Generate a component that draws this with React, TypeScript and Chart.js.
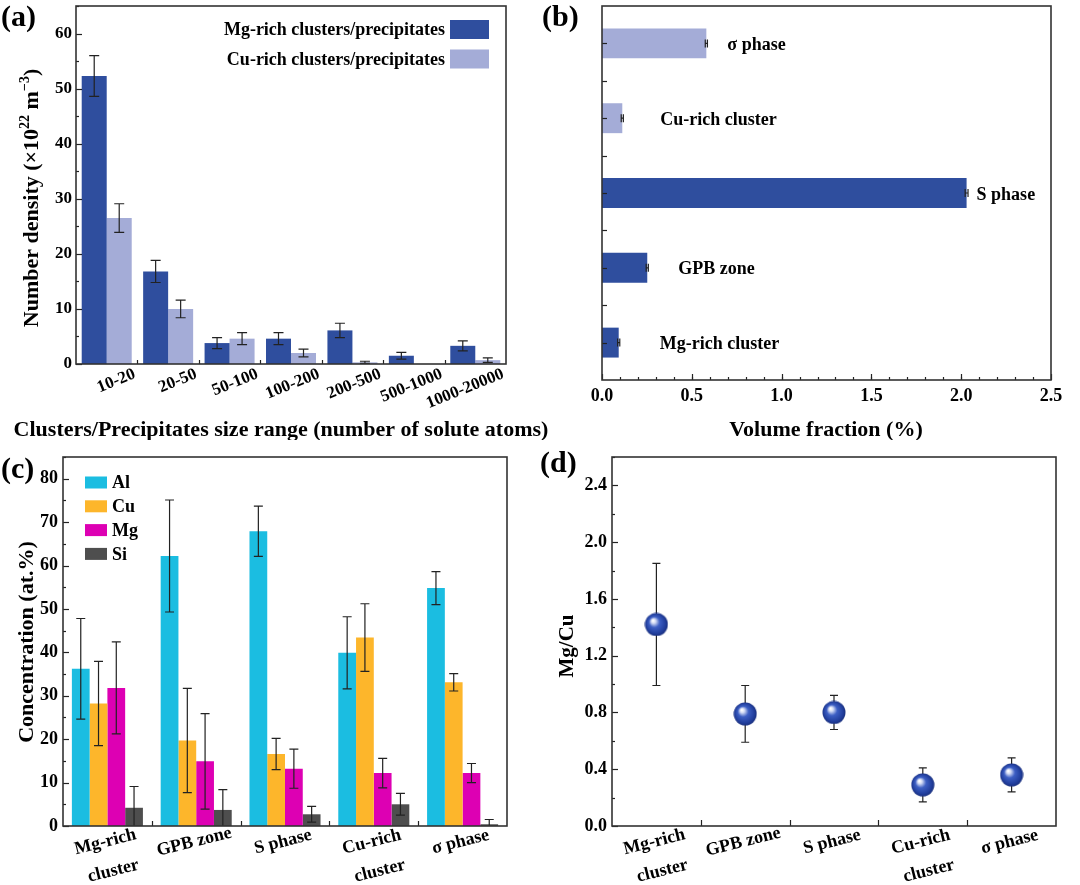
import React, { useEffect, useRef } from 'react';
import { Chart, registerables } from 'chart.js';

Chart.register(...registerables);

const FONT = '"Liberation Serif", "Times New Roman", Times, serif';
Chart.defaults.font.family = FONT;
Chart.defaults.font.weight = 'bold';
Chart.defaults.color = '#000';

// ---------- (a) Number density vs size range ----------
const sizeRanges = ['10-20', '20-50', '50-100', '100-200', '200-500', '500-1000', '1000-20000'];
const mgRichDensity = [52.3, 16.8, 3.8, 4.6, 6.1, 1.5, 3.3];
const mgRichDensityErr = [3.7, 2.0, 1.0, 1.1, 1.3, 0.6, 0.9];
const cuRichDensity = [26.5, 10.0, 4.6, 2.0, 0.3, 0, 0.7];
const cuRichDensityErr = [2.6, 1.6, 1.1, 0.7, 0.2, null, 0.4];
const densitySeries = ['Mg-rich clusters/precipitates', 'Cu-rich clusters/precipitates'];

// ---------- (b) Volume fraction ----------
const phaseNames = ['Mg-rich cluster', 'GPB zone', 'S phase', 'Cu-rich cluster', 'σ phase'];
const volumeFraction = [0.093, 0.252, 2.03, 0.113, 0.581];
const volumeFractionErr = [0.006, 0.006, 0.008, 0.006, 0.006];

// ---------- (c) Concentration ----------
const phaseTickLabels = [['Mg-rich', 'cluster'], 'GPB zone', 'S phase', ['Cu-rich', 'cluster'], 'σ phase'];
const elements = ['Al', 'Cu', 'Mg', 'Si'];
const alConc = [36.2, 62.2, 67.9, 39.9, 54.8];
const alConcErr = [11.6, 12.9, 5.8, 8.3, 3.8];
const cuConc = [28.2, 19.7, 16.6, 43.4, 33.1];
const cuConcErr = [9.7, 12.0, 3.6, 7.8, 2.0];
const mgConc = [31.8, 14.9, 13.2, 12.2, 12.2];
const mgConcErr = [10.6, 11.0, 4.5, 3.4, 2.2];
const siConc = [4.2, 3.7, 2.7, 5.0, 0.4];
const siConcErr = [4.9, 4.7, 1.8, 2.5, 1.1];

// ---------- (d) Mg/Cu ratio ----------
const mgCuRatio = [1.42, 0.79, 0.8, 0.29, 0.36];
const mgCuRatioErr = [0.43, 0.2, 0.12, 0.12, 0.12];

// ---------- styles ----------
const DARK_BLUE = '#2F4E9E';
const LIGHT_BLUE = '#A4ACD7';
const AL_COLOR = '#1BBDE1';
const CU_COLOR = '#FDB62B';
const MG_COLOR = '#DD00B3';
const SI_COLOR = '#4E4E4E';

const seq = (a: number, b: number, s: number) => {
  const out: number[] = [];
  for (let v = a; v <= b + 1e-9; v += s) out.push(Math.round(v * 1000) / 1000);
  return out;
};

function drawRuns(ctx: any, runs: any[], x: number, y: number, rotation: number, align: string) {
  ctx.save();
  ctx.translate(x, y);
  ctx.rotate(rotation);
  let total = 0;
  const widths = runs.map((r) => {
    ctx.font = `bold ${r.size}px ${FONT}`;
    const w = ctx.measureText(r.text).width;
    total += w;
    return w;
  });
  let cx = align === 'center' ? -total / 2 : align === 'right' ? -total : 0;
  ctx.textBaseline = 'middle';
  ctx.textAlign = 'left';
  ctx.fillStyle = '#000';
  runs.forEach((r, i) => {
    ctx.font = `bold ${r.size}px ${FONT}`;
    ctx.fillText(r.text, cx, -(r.rise || 0));
    cx += widths[i];
  });
  ctx.restore();
}

const errorBars = {
  id: 'errorBars',
  beforeDatasetsDraw(chart: any, _a: any, opts: any) {
    if (opts.behind) drawErrors(chart, opts);
  },
  afterDatasetsDraw(chart: any, _a: any, opts: any) {
    if (!opts.behind) drawErrors(chart, opts);
  },
};

function drawErrors(chart: any, opts: any) {
  const ctx = chart.ctx;
  const a = chart.chartArea;
  const horizontal = chart.options.indexAxis === 'y';
  ctx.save();
  ctx.beginPath();
  ctx.rect(a.left, a.top, a.right - a.left, a.bottom - a.top);
  ctx.clip();
  ctx.strokeStyle = opts.color || '#222';
  ctx.lineWidth = opts.lineWidth || 1.2;
  chart.data.datasets.forEach((ds: any, di: number) => {
    const errs = ds.errors;
    if (!errs) return;
    const meta = chart.getDatasetMeta(di);
    const vs = meta.vScale;
    meta.data.forEach((el: any, i: number) => {
      const v = ds.data[i];
      const e = errs[i];
      if (e == null || v == null) return;
      const hi = vs.getPixelForValue(v + e);
      const lo = vs.getPixelForValue(v - e);
      const c = horizontal ? el.y : el.x;
      const w = opts.cap / 2;
      ctx.beginPath();
      if (horizontal) {
        ctx.moveTo(lo, c); ctx.lineTo(hi, c);
        ctx.moveTo(lo, c - w); ctx.lineTo(lo, c + w);
        ctx.moveTo(hi, c - w); ctx.lineTo(hi, c + w);
      } else {
        ctx.moveTo(c, lo); ctx.lineTo(c, hi);
        ctx.moveTo(c - w, lo); ctx.lineTo(c + w, lo);
        ctx.moveTo(c - w, hi); ctx.lineTo(c + w, hi);
      }
      ctx.stroke();
    });
  });
  ctx.restore();
}

const decor = {
  id: 'decor',
  afterDraw(chart: any, _a: any, opts: any) {
    const ctx = chart.ctx;
    const a = chart.chartArea;
    const xs = chart.scales.x;
    const ys = chart.scales.y;
    ctx.save();
    ctx.strokeStyle = '#222';
    ctx.lineWidth = 1.2;
    const xt = (vals: number[] = [], len: number) => {
      vals.forEach((v) => {
        const p = Math.round(xs.getPixelForValue(v)) + 0.5;
        ctx.beginPath(); ctx.moveTo(p, a.bottom); ctx.lineTo(p, a.bottom - len); ctx.stroke();
      });
    };
    const yt = (vals: number[] = [], len: number) => {
      vals.forEach((v) => {
        const p = Math.round(ys.getPixelForValue(v)) + 0.5;
        ctx.beginPath(); ctx.moveTo(a.left, p); ctx.lineTo(a.left + len, p); ctx.stroke();
      });
    };
    if (opts.x) { xt(opts.x.major, opts.x.len || 6); xt(opts.x.minor, opts.x.minorLen || 3); }
    if (opts.y) { yt(opts.y.major, opts.y.len || 6); yt(opts.y.minor, opts.y.minorLen || 3); }
    ctx.lineWidth = 1.6;
    ctx.strokeStyle = '#333';
    ctx.strokeRect(a.left, a.top, a.right - a.left, a.bottom - a.top);
    ctx.restore();
  },
};

const texts = {
  id: 'texts',
  afterDraw(chart: any, _a: any, opts: any) {
    (opts.items || []).forEach((it: any) => {
      const runs = it.runs || [{ text: it.text, size: it.size }];
      drawRuns(chart.ctx, runs, it.x, it.y, it.rotation || 0, it.align || 'center');
    });
  },
};

// category tick labels drawn centred on the tick, rotated, one or two lines
const catLabels = {
  id: 'catLabels',
  afterDraw(chart: any, _a: any, opts: any) {
    const ctx = chart.ctx;
    const xs = chart.scales.x;
    const a = chart.chartArea;
    ctx.save();
    ctx.font = `bold ${opts.size}px ${FONT}`;
    ctx.fillStyle = '#000';
    ctx.textAlign = 'center';
    ctx.textBaseline = 'middle';
    chart.data.labels.forEach((lab: any, i: number) => {
      const lines = Array.isArray(lab) ? lab : [lab];
      const px = xs.getPixelForValue(i);
      lines.forEach((t: string, j: number) => {
        ctx.save();
        ctx.translate(px + opts.dx + j * opts.lineDx, a.bottom + opts.dy + j * opts.lineDy);
        ctx.rotate((-opts.rotation * Math.PI) / 180);
        ctx.fillText(t, 0, 0);
        ctx.restore();
      });
    });
    ctx.restore();
  },
};

const boxLegend = {
  id: 'boxLegend',
  afterDraw(chart: any, _a: any, opts: any) {
    const ctx = chart.ctx;
    ctx.save();
    ctx.font = `bold ${opts.size}px ${FONT}`;
    ctx.textBaseline = 'middle';
    chart.data.datasets.forEach((ds: any, i: number) => {
      const cy = opts.y0 + i * opts.dy;
      ctx.fillStyle = ds.backgroundColor;
      ctx.fillRect(opts.boxX, cy - opts.boxH / 2, opts.boxW, opts.boxH);
      ctx.fillStyle = '#000';
      if (opts.side === 'right') {
        ctx.textAlign = 'right';
        ctx.fillText(ds.label, opts.boxX - opts.gap, cy + 1);
      } else {
        ctx.textAlign = 'left';
        ctx.fillText(ds.label, opts.boxX + opts.boxW + opts.gap, cy + 1);
      }
    });
    ctx.restore();
  },
};

const barLabels = {
  id: 'barLabels',
  afterDatasetsDraw(chart: any, _a: any, opts: any) {
    const ctx = chart.ctx;
    const meta = chart.getDatasetMeta(0);
    ctx.save();
    ctx.font = `bold ${opts.size}px ${FONT}`;
    ctx.fillStyle = '#000';
    ctx.textBaseline = 'middle';
    ctx.textAlign = 'left';
    meta.data.forEach((el: any, i: number) => {
      ctx.fillText(chart.data.labels[i], el.x + opts.offsets[i], el.y + opts.dy);
    });
    ctx.restore();
  },
};

const fixScale = (w?: number, h?: number) => (s: any) => {
  if (w != null) s.width = w;
  if (h != null) s.height = h;
  s.paddingTop = 0; s.paddingBottom = 0; s.paddingLeft = 0; s.paddingRight = 0;
};

const noGrid = { display: false, drawTicks: false };
const noBorder = { display: false };

function makeA(): any {
  return {
    type: 'bar',
    data: {
      labels: sizeRanges,
      datasets: [
        { label: densitySeries[0], data: mgRichDensity, errors: mgRichDensityErr, backgroundColor: DARK_BLUE, categoryPercentage: 0.814, barPercentage: 1 },
        { label: densitySeries[1], data: cuRichDensity, errors: cuRichDensityErr, backgroundColor: LIGHT_BLUE, categoryPercentage: 0.814, barPercentage: 1 },
      ],
    },
    options: {
      animation: false, responsive: false, maintainAspectRatio: false, events: [],
      layout: { padding: { left: 0, top: 6, right: 54, bottom: 0 } },
      plugins: {
        legend: { display: false }, tooltip: { enabled: false },
        errorBars: { cap: 10 },
        decor: { x: { minor: seq(0.5, 5.5, 1), minorLen: 4 }, y: { major: seq(0, 60, 10), minor: seq(5, 65, 10) } },
        boxLegend: { side: 'right', size: 18, boxX: 450, boxW: 39, boxH: 19, gap: 5, y0: 29.5, dy: 29.5 },
        texts: {
          items: [
            { text: '(a)', size: 30, x: 1, y: 18, align: 'left' },
            { text: 'Clusters/Precipitates size range (number of solute atoms)', size: 22, x: 281, y: 430 },
            {
              runs: [
                { text: 'Number density (×10', size: 22 },
                { text: '22', size: 14, rise: 7 },
                { text: ' m', size: 22 },
                { text: '−3', size: 14, rise: 7 },
                { text: ')', size: 22 },
              ],
              x: 32, y: 198, rotation: -Math.PI / 2,
            },
          ],
        },
      },
      scales: {
        x: {
          grid: noGrid, border: noBorder,
          ticks: { font: { size: 17, weight: 'bold' }, color: '#000', minRotation: 22, maxRotation: 22, labelOffset: 28, padding: 0, autoSkip: false },
          afterFit: fixScale(undefined, 76),
        },
        y: {
          min: 0, max: 65, grid: noGrid, border: noBorder,
          ticks: { stepSize: 10, includeBounds: false, font: { size: 17, weight: 'bold' }, color: '#000', padding: 4 },
          afterFit: fixScale(76, undefined),
        },
      },
    },
    plugins: [errorBars, decor, boxLegend, texts],
  };
}

function makeB(): any {
  return {
    type: 'bar',
    data: {
      labels: phaseNames,
      datasets: [
        {
          label: 'Volume fraction', data: volumeFraction, errors: volumeFractionErr,
          backgroundColor: [DARK_BLUE, DARK_BLUE, DARK_BLUE, LIGHT_BLUE, LIGHT_BLUE],
          categoryPercentage: 1, barPercentage: 0.4,
        },
      ],
    },
    options: {
      indexAxis: 'y',
      animation: false, responsive: false, maintainAspectRatio: false, events: [],
      layout: { padding: { left: 0, top: 6, right: 29, bottom: 0 } },
      plugins: {
        legend: { display: false }, tooltip: { enabled: false },
        errorBars: { cap: 8 },
        barLabels: { size: 18, offsets: [41, 31, 10, 38, 21], dy: 2 },
        decor: { x: { major: seq(0, 2.5, 0.5), minor: seq(0.1, 2.4, 0.1), len: 6, minorLen: 3 }, y: { major: seq(0, 4, 1), minor: seq(0.5, 3.5, 1), len: 5, minorLen: 5 } },
        texts: {
          items: [
            { text: '(b)', size: 30, x: 2, y: 18, align: 'left' },
            { text: 'Volume fraction (%)', size: 22, x: 286, y: 430 },
          ],
        },
      },
      scales: {
        x: {
          type: 'linear', min: 0, max: 2.5, grid: noGrid, border: noBorder,
          ticks: { stepSize: 0.5, font: { size: 18, weight: 'bold' }, color: '#000', padding: 6, callback: (v: any) => Number(v).toFixed(1) },
          afterFit: fixScale(undefined, 60),
        },
        y: {
          type: 'category', reverse: true, grid: noGrid, border: noBorder,
          ticks: { display: false },
          afterFit: fixScale(62, undefined),
        },
      },
    },
    plugins: [errorBars, barLabels, decor, texts],
  };
}

const phaseLabelStyle = { size: 18, rotation: 14, dx: -2, dy: 16, lineDx: 8, lineDy: 29 };

function makeC(): any {
  const series = [
    { data: alConc, err: alConcErr, color: AL_COLOR },
    { data: cuConc, err: cuConcErr, color: CU_COLOR },
    { data: mgConc, err: mgConcErr, color: MG_COLOR },
    { data: siConc, err: siConcErr, color: SI_COLOR },
  ];
  return {
    type: 'bar',
    data: {
      labels: phaseTickLabels,
      datasets: series.map((s, i) => ({
        label: elements[i], data: s.data, errors: s.err, backgroundColor: s.color,
        categoryPercentage: 0.8, barPercentage: 1,
      })),
    },
    options: {
      animation: false, responsive: false, maintainAspectRatio: false, events: [],
      layout: { padding: { left: 0, top: 17, right: 33, bottom: 0 } },
      plugins: {
        legend: { display: false }, tooltip: { enabled: false },
        errorBars: { cap: 9 },
        catLabels: phaseLabelStyle,
        decor: { x: { minor: seq(0.5, 3.5, 1), minorLen: 5 }, y: { major: seq(0, 80, 10), minor: seq(5, 85, 10) } },
        boxLegend: { side: 'left', size: 18, boxX: 85, boxW: 22, boxH: 12, gap: 5, y0: 42.5, dy: 23.8 },
        texts: {
          items: [
            { text: '(c)', size: 30, x: 1, y: 30, align: 'left' },
            { text: 'Concentration (at.%)', size: 22, x: 27, y: 202, rotation: -Math.PI / 2 },
          ],
        },
      },
      scales: {
        x: {
          grid: noGrid, border: noBorder,
          ticks: { display: false },
          afterFit: fixScale(undefined, 59),
        },
        y: {
          min: 0, max: 85, grid: noGrid, border: noBorder,
          ticks: { stepSize: 10, includeBounds: false, font: { size: 18, weight: 'bold' }, color: '#000', padding: 5 },
          afterFit: fixScale(63, undefined),
        },
      },
    },
    plugins: [errorBars, decor, boxLegend, catLabels, texts],
  };
}

function makeSphere(): HTMLCanvasElement {
  const c = document.createElement('canvas');
  c.width = 24; c.height = 24;
  const ctx = c.getContext('2d')!;
  const g = ctx.createRadialGradient(8.5, 8, 0.5, 12, 12, 12);
  g.addColorStop(0, '#ffffff');
  g.addColorStop(0.15, '#d5ddf5');
  g.addColorStop(0.42, '#3d5fc4');
  g.addColorStop(0.8, '#223f9e');
  g.addColorStop(1, '#172c78');
  ctx.fillStyle = g;
  ctx.beginPath();
  ctx.arc(12, 12, 11.5, 0, Math.PI * 2);
  ctx.fill();
  return c;
}

function makeD(): any {
  return {
    type: 'line',
    data: {
      labels: phaseTickLabels,
      datasets: [
        {
          label: 'Mg/Cu', data: mgCuRatio, errors: mgCuRatioErr, showLine: false,
          pointStyle: makeSphere(), pointRadius: 12, borderColor: DARK_BLUE, backgroundColor: DARK_BLUE,
        },
      ],
    },
    options: {
      animation: false, responsive: false, maintainAspectRatio: false, events: [],
      layout: { padding: { left: 0, top: 17, right: 24, bottom: 0 } },
      plugins: {
        legend: { display: false }, tooltip: { enabled: false },
        errorBars: { cap: 8, behind: true },
        catLabels: phaseLabelStyle,
        decor: { x: { minor: seq(0.5, 3.5, 1), minorLen: 6 }, y: { major: seq(0, 2.4, 0.4), minor: seq(0.2, 2.6, 0.4) } },
        texts: {
          items: [
            { text: '(d)', size: 30, x: 0, y: 24, align: 'left' },
            { text: 'Mg/Cu', size: 21, x: 28, y: 206, rotation: -Math.PI / 2 },
          ],
        },
      },
      scales: {
        x: {
          type: 'category', offset: true, grid: { ...noGrid, offset: true }, border: noBorder,
          ticks: { display: false },
          afterFit: fixScale(undefined, 59),
        },
        y: {
          min: 0, max: 2.6, grid: noGrid, border: noBorder,
          ticks: { stepSize: 0.4, includeBounds: false, font: { size: 18, weight: 'bold' }, color: '#000', padding: 5, callback: (v: any) => Number(v).toFixed(1) },
          afterFit: fixScale(72, undefined),
        },
      },
    },
    plugins: [errorBars, decor, catLabels, texts],
  };
}

function Panel({ left, top, width, height, make }: any) {
  const ref = useRef<HTMLCanvasElement>(null);
  useEffect(() => {
    if (!ref.current) return;
    const chart = new Chart(ref.current, make());
    return () => chart.destroy();
  }, []);
  return (
    <canvas
      ref={ref}
      width={width}
      height={height}
      style={{ position: 'absolute', left, top, width, height }}
    />
  );
}

export default function App() {
  return (
    <div style={{ position: 'absolute', left: 0, top: 0, width: 1080, height: 885, background: '#fff', overflow: 'hidden' }}>
      <Panel left={0} top={0} width={560} height={440} make={makeA} />
      <Panel left={540} top={0} width={540} height={440} make={makeB} />
      <Panel left={0} top={440} width={540} height={445} make={makeC} />
      <Panel left={540} top={440} width={540} height={445} make={makeD} />
    </div>
  );
}
